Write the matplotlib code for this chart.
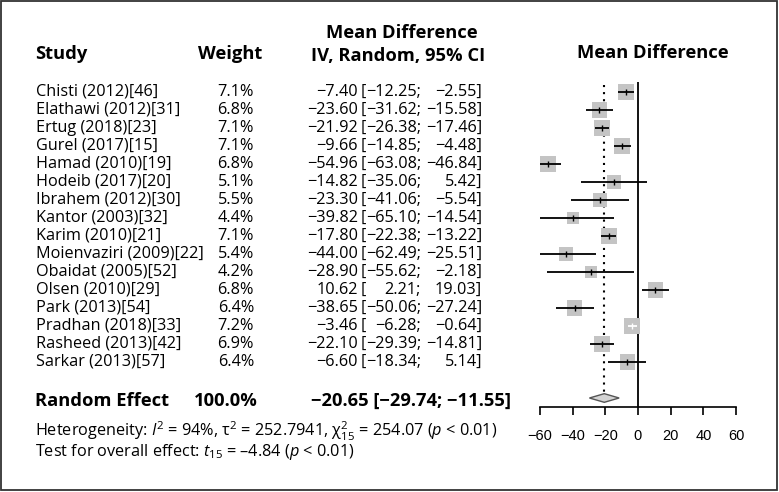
import matplotlib
matplotlib.use("Agg")
import matplotlib.pyplot as plt
from matplotlib import transforms
from matplotlib.patches import Polygon, Rectangle
import numpy as np

studies = ["Chisti (2012)[46]", "Elathawi (2012)[31]", "Ertug (2018)[23]",
           "Gurel (2017)[15]", "Hamad (2010)[19]", "Hodeib (2017)[20]",
           "Ibrahem (2012)[30]", "Kantor (2003)[32]", "Karim (2010)[21]",
           "Moienvaziri (2009)[22]", "Obaidat (2005)[52]", "Olsen (2010)[29]",
           "Park (2013)[54]", "Pradhan (2018)[33]", "Rasheed (2013)[42]",
           "Sarkar (2013)[57]"]
weights = [7.1, 6.8, 7.1, 7.1, 6.8, 5.1, 5.5, 4.4, 7.1, 5.4, 4.2, 6.8, 6.4, 7.2, 6.9, 6.4]
md = [-7.40, -23.60, -21.92, -9.66, -54.96, -14.82, -23.30, -39.82, -17.80,
      -44.00, -28.90, 10.62, -38.65, -3.46, -22.10, -6.60]
ci_lo = [-12.25, -31.62, -26.38, -14.85, -63.08, -35.06, -41.06, -65.10, -22.38,
         -62.49, -55.62, 2.21, -50.06, -6.28, -29.39, -18.34]
ci_hi = [-2.55, -15.58, -17.46, -4.48, -46.84, 5.42, -5.54, -14.54, -13.22,
         -25.51, -2.18, 19.03, -27.24, -0.64, -14.81, 5.14]
ci_inside_box = ["Pradhan (2018)[33]"]
pooled_md, pooled_lo, pooled_hi = -20.65, -29.74, -11.55
xticks = [-60, -40, -20, 0, 20, 40, 60]

plt.rcParams["font.family"] = ["Open Sans", "DejaVu Sans"]
plt.rcParams["mathtext.fontset"] = "custom"
plt.rcParams["mathtext.rm"] = "Open Sans"
plt.rcParams["mathtext.it"] = "Open Sans:italic"

W, H = 779, 492
fig = plt.figure(figsize=(W / 100, H / 100), dpi=100)


def fx(px):
    return px / W


def fy(py):
    return 1 - py / H


def minus(v):
    return f"{v:.2f}".replace("-", "\u2212")


# forest panel
ax = fig.add_axes([fx(540), fy(407), fx(736) - fx(540), fy(82) - fy(407)])
n = len(studies)
rows = np.arange(n)
pooled_row = n + 1
ax.set_xlim(-60, 60)
ax.set_ylim(pooled_row + 0.5, -0.55)

for s in ["left", "top", "right"]:
    ax.spines[s].set_visible(False)
ax.spines["bottom"].set_bounds(-60, 60)
ax.spines["bottom"].set_linewidth(1.2)
ax.set_yticks([])
ax.set_xticks(xticks)
ax.set_xticklabels([str(t).replace("-", "\u2212") for t in xticks],
                   family="Liberation Sans", fontsize=10.5)
ax.tick_params(axis="x", direction="out", length=6, width=1.2, pad=9.5)
ax.patch.set_visible(False)

ax.axvline(0, color="black", lw=1.3)
ax.vlines(pooled_md, -0.4, pooled_row - 0.3, color="black", lw=1.5,
          linestyle=(0, (1, 2.4)))

sides = 11.5 * np.sqrt(np.array(weights) / 7.1)
ax.scatter(md, rows, s=sides ** 2, marker="s", color="#c4c4c4", lw=0, zorder=3)
line_cols = ["white" if s in ci_inside_box else "black" for s in studies]
ax.hlines(rows, ci_lo, ci_hi, colors=line_cols, lw=1.3, zorder=4)
for x, y, c in zip(md, rows, line_cols):
    ax.plot(x, y, marker="|", ms=5, mew=1, color=c, zorder=5)

ax.add_patch(Polygon([(pooled_lo, pooled_row), (pooled_md, pooled_row - 0.24),
                      (pooled_hi, pooled_row), (pooled_md, pooled_row + 0.24)],
                     closed=True, facecolor="#d4d4d4", edgecolor="#555555",
                     lw=1, zorder=4))

# text columns
trans = transforms.blended_transform_factory(fig.transFigure, ax.transData)
fs = 11.7
for i, name in enumerate(studies):
    fig.text(fx(36), i, name, transform=trans, fontsize=fs, va="center")
    fig.text(fx(254), i, f"{weights[i]:.1f}%", transform=trans, fontsize=fs,
             va="center", ha="right")
    fig.text(fx(358), i, minus(md[i]), transform=trans, fontsize=fs,
             va="center", ha="right")
    fig.text(fx(361), i, "[", transform=trans, fontsize=fs, va="center")
    fig.text(fx(421), i, minus(ci_lo[i]) + ";", transform=trans, fontsize=fs,
             va="center", ha="right")
    fig.text(fx(482), i, minus(ci_hi[i]) + "]", transform=trans, fontsize=fs,
             va="center", ha="right")

bfs = 13.2
fig.text(fx(35), pooled_row + 0.15, "Random Effect", transform=trans,
         fontsize=bfs, weight="bold", va="center")
fig.text(fx(258), pooled_row + 0.15, "100.0%", transform=trans,
         fontsize=bfs, weight="bold", va="center", ha="right")
fig.text(fx(511), pooled_row + 0.15,
         f"{minus(pooled_md)} [{minus(pooled_lo)}; {minus(pooled_hi)}]",
         transform=trans, fontsize=bfs, weight="bold", va="center", ha="right")

# headers
fig.text(fx(35), fy(54), "Study", fontsize=bfs, weight="bold", va="center")
fig.text(fx(230), fy(54), "Weight", fontsize=bfs, weight="bold",
         va="center", ha="center")
fig.text(fx(402), fy(33), "Mean Difference", fontsize=bfs, weight="bold",
         va="center", ha="center")
fig.text(fx(398), fy(56), "IV, Random, 95% CI", fontsize=bfs, weight="bold",
         va="center", ha="center")
fig.text(fx(653), fy(53), "Mean Difference", fontsize=bfs, weight="bold",
         va="center", ha="center")

fig.text(fx(35), fy(431),
         "Heterogeneity: $I^2$ = 94%, \u03c4$^2$ = 252.7941, "
         "\u03c7$^2_{15}$ = 254.07 ($p$ < 0.01)",
         fontsize=fs, va="center")
fig.text(fx(35), fy(452),
         "Test for overall effect: $t_{15}$ = \u20134.84 ($p$ < 0.01)",
         fontsize=fs, va="center")

fig.patches.append(Rectangle((fx(1), fy(490)), fx(776), fy(1) - fy(490),
                             transform=fig.transFigure, fill=False,
                             edgecolor="#333333", lw=1.3))

fig.savefig("out.png", dpi=100)
